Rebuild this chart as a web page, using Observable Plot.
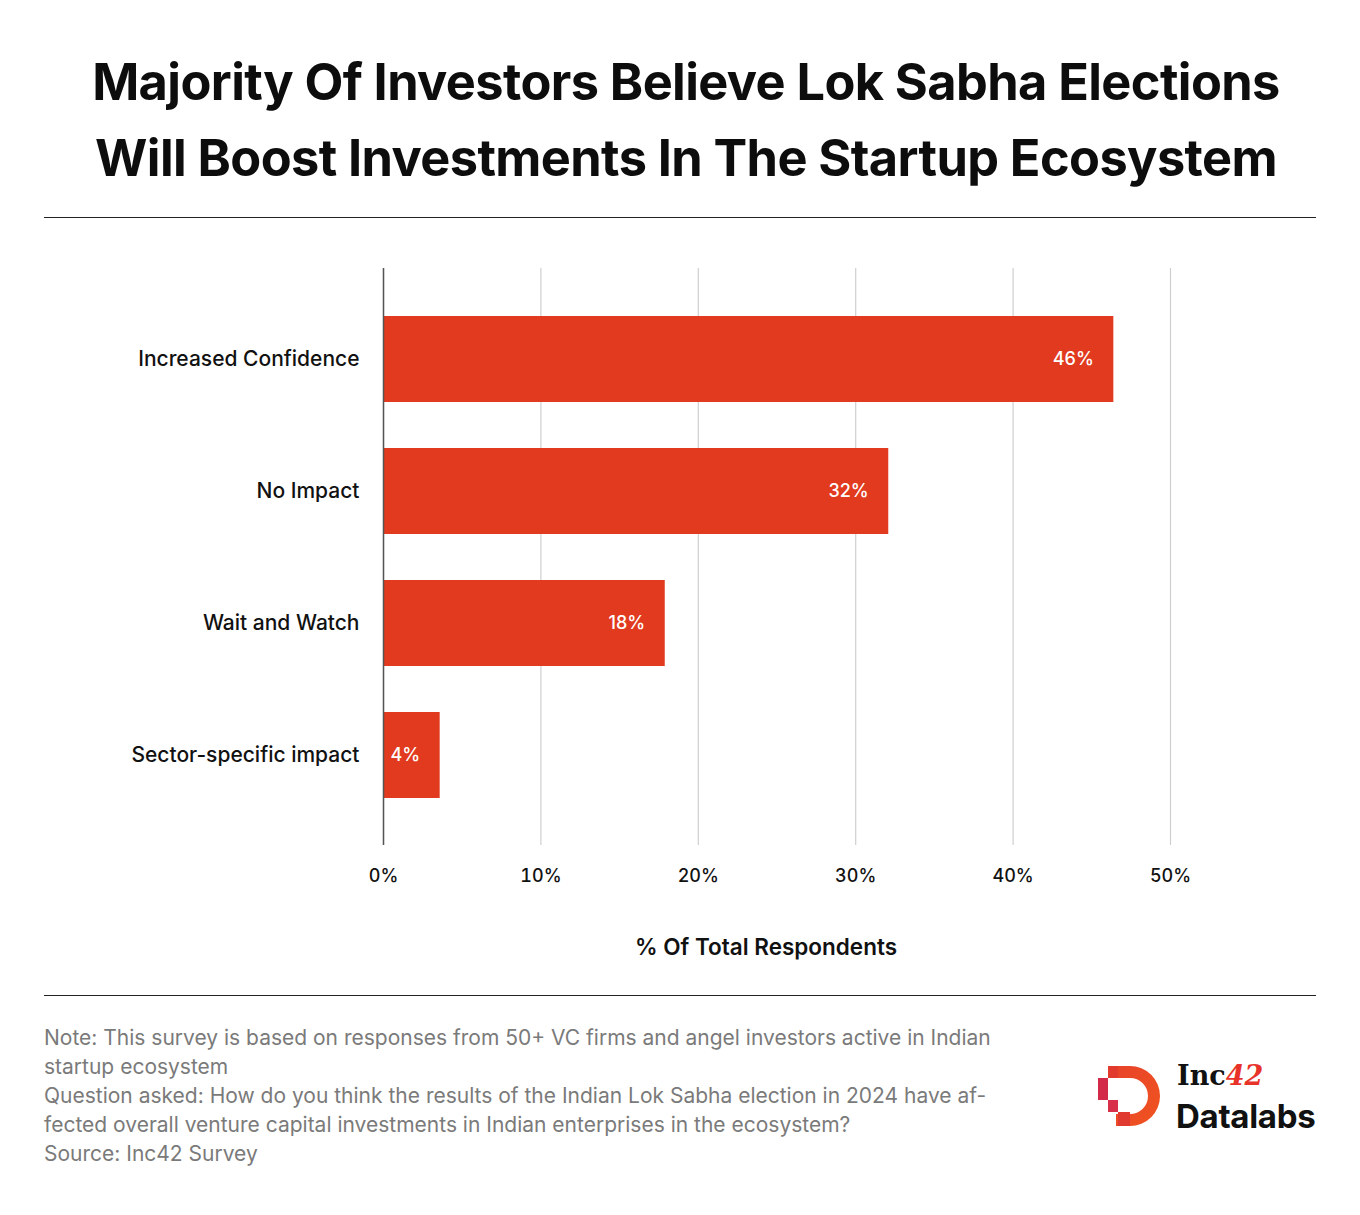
<!DOCTYPE html>
<html>
<head>
<meta charset="utf-8">
<script src="https://cdn.jsdelivr.net/npm/d3@7"></script>
<script src="https://cdn.jsdelivr.net/npm/@observablehq/plot@0.6"></script>
<style>
  html, body { margin: 0; padding: 0; background: #fff; }
  body { width: 1360px; height: 1215px; position: relative; font-family: Inter, "Noto Sans", sans-serif; }
  #title { position: absolute; top: 44px; left: 6px; width: 1360px; text-align: center; font-weight: 700; font-size: 50.5px; line-height: 76px; color: #0d0d0d; letter-spacing: -0.6px; }
  .rule { position: absolute; left: 44px; width: 1272px; height: 0; border-top: 1.5px solid #222; }
  #chart { position: absolute; left: 44px; top: 230px; }
  #notes { position: absolute; left: 44px; top: 1023px; width: 1020px; font-size: 21px; line-height: 29px; color: #7a7a7a; font-weight: 400; }
  #logo { position: absolute; left: 1096px; top: 1058px; }
</style>
</head>
<body>
<div id="title">Majority Of Investors Believe Lok Sabha Elections<br>Will Boost Investments In The Startup Ecosystem</div>
<div class="rule" style="top:217px"></div>
<div id="chart"></div>
<div class="rule" style="top:995px"></div>
<div id="notes">Note: This survey is based on responses from 50+ VC firms and angel investors active in Indian<br>startup ecosystem<br>Question asked: How do you think the results of the Indian Lok Sabha election in 2024 have af-<br>fected overall venture capital investments in Indian enterprises in the ecosystem?<br>Source: Inc42 Survey</div>
<div id="logo">
<svg width="224" height="80" viewBox="0 0 224 80">
  <defs>
    <linearGradient id="lg" x1="0" y1="0" x2="1" y2="1">
      <stop offset="0" stop-color="#e8432a"/>
      <stop offset="1" stop-color="#f0541f"/>
    </linearGradient>
  </defs>
  <path d="M20 8 H34 A30 30 0 0 1 34 68 H20 V56 H34 A18 18 0 0 0 34 20 H20 Z" fill="url(#lg)"/>
  <rect x="12" y="8" width="10" height="12" fill="#e23a2c"/>
  <rect x="2" y="20" width="10" height="22" fill="#d42a4a"/>
  <rect x="12" y="42" width="10" height="12" fill="#d8304a"/>
  <rect x="22" y="54" width="12" height="14" fill="#e03a30"/>
  <text x="81" y="27" font-family="'DejaVu Serif', serif" font-weight="700" font-size="27" fill="#111">Inc<tspan fill="#e8332a" font-style="italic">42</tspan></text>
  <text x="80" y="70" font-family="Inter, sans-serif" font-weight="700" font-size="33" fill="#111" letter-spacing="-0.3">Datalabs</text>
</svg>
</div>
<script>
const categories = ["Increased Confidence", "No Impact", "Wait and Watch", "Sector-specific impact"];
const values = [46.4, 32.1, 17.9, 3.6];
const xTicks = [0, 10, 20, 30, 40, 50];
const xTitle = "% Of Total Respondents";

const data = categories.map((c, i) => ({category: c, value: values[i]}));

const chart = Plot.plot({
  width: 1272,
  height: 755,
  marginTop: 38,
  marginBottom: 140,
  marginLeft: 339,
  marginRight: 146,
  style: {fontFamily: "Inter, 'Noto Sans', sans-serif", fontSize: "18px", color: "#111", background: "#fff"},
  x: {domain: [0, 50], ticks: xTicks},
  y: {domain: categories, padding: 0.35},
  marks: [
    Plot.gridX(xTicks, {stroke: "#cfcfcf", strokeOpacity: 1, strokeWidth: 1.2}),
    Plot.axisX(xTicks, {tickSize: 0, tickPadding: 24, tickFormat: d => d + "%", fontSize: 18, fontWeight: 500, label: null}),
    Plot.text([xTitle], {frameAnchor: "bottom", dy: 109, dx: -11, fontSize: 22.5, fontWeight: 600, fill: "#111"}),
    Plot.axisY({tickSize: 0, tickPadding: 24, fontSize: 21, fontWeight: 500, label: null}),
    Plot.barX(data, {x: "value", y: "category", fill: "#e13a1e"}),
    Plot.ruleX([0], {stroke: "#555", strokeWidth: 1.5}),
    Plot.text(data, {x: "value", y: "category", text: d => Math.round(d.value) + "%", textAnchor: "end", dx: -20, fill: "#fff", fontSize: 18, fontWeight: 500})
  ]
});
document.getElementById("chart").appendChild(chart);
</script>
</body>
</html>
